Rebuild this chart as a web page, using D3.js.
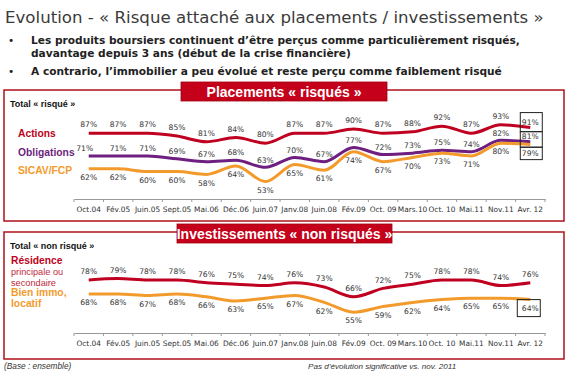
<!DOCTYPE html>
<html><head><meta charset="utf-8">
<script src="https://cdn.jsdelivr.net/npm/d3@7/dist/d3.min.js"></script>
<style>body{margin:0;background:#fff}svg{display:block}</style>
</head><body>
<script>
const categories = ["Oct.04","Fév.05","Juin.05","Sept.05","Mai.06","Déc.06","Juin.07","Janv.08","Juin.08","Fév.09","Oct. 09","Mars.10","Oct. 10","Mai.11","Nov.11","Avr. 12"];
const actions     = [87,87,87,85,81,84,80,87,87,90,87,88,92,87,93,91];
const obligations = [71,71,71,69,67,68,63,70,67,77,72,73,75,74,82,81];
const sicav       = [62,62,60,60,58,64,53,65,61,74,67,70,73,71,80,79];
const residence   = [78,79,78,78,76,75,74,76,73,66,72,75,78,78,74,76];
const bienImmo    = [68,68,67,68,66,63,65,67,62,55,59,62,64,65,65,64];

const W = 569, H = 373;
const svg = d3.select("body").append("svg").attr("width", W).attr("height", H);
const RED = "#c00020", PURPLE = "#6e1f80", ORANGE = "#f29b2c", DARKRED = "#b0101c";
const SANS = "'Liberation Sans', Arial, sans-serif";
const DJ = "'DejaVu Sans', sans-serif";

function fit(sel, target, base) {
  const w = sel.node().getComputedTextLength();
  sel.attr("font-size", base * target / w);
}

// Title
const title = svg.append("text").attr("x", 5).attr("y", 23).attr("font-family", DJ).attr("font-size", 16)
  .attr("fill", "#3a3a3a").text("Evolution - « Risque attaché aux placements / investissements »");
fit(title, 539, 16);

const bullets = [
  {y: 44, t: "Les produits boursiers continuent d’être perçus comme particulièrement risqués,", b: true, w: 489},
  {y: 57, t: "davantage depuis 3 ans (début de la crise financière)", b: false, w: 0},
  {y: 75, t: "A contrario, l’immobilier a peu évolué et reste perçu comme faiblement risqué", b: true, w: 465}
];
let bulletSize = 10.5;
bullets.forEach((d, k) => {
  if (d.b) svg.append("text").attr("x", 8).attr("y", d.y).attr("font-family", DJ).attr("font-size", 10.5).attr("fill", "#222").text("•");
  const t = svg.append("text").attr("x", 31).attr("y", d.y).attr("font-family", DJ).attr("font-weight", "bold")
    .attr("font-size", 10.5).attr("fill", "#222").text(d.t);
  if (k === 0) { fit(t, d.w, 10.5); bulletSize = +t.attr("font-size"); }
  else t.attr("font-size", bulletSize);
});

const x = d3.scaleBand().domain(categories).range([74, 545]);
const xc = d => x(d) + x.bandwidth() / 2;

function panel(cfg) {
  svg.append("rect").attr("x", 4).attr("y", cfg.top).attr("width", 560).attr("height", cfg.bottom - cfg.top)
    .attr("fill", "none").attr("stroke", DARKRED).attr("stroke-width", 1.5);
  svg.append("rect").attr("x", cfg.hx).attr("y", cfg.top - 8).attr("width", cfg.hw).attr("height", 19)
    .attr("fill", "#c4001a").attr("stroke", "#a00010").attr("stroke-width", 0.8);
  svg.append("text").attr("x", cfg.hx + cfg.hw / 2).attr("y", cfg.top + 6.5).attr("text-anchor", "middle")
    .attr("font-family", SANS).attr("font-weight", "bold").attr("font-size", 14).attr("fill", "#fff").text(cfg.header);
  svg.append("text").attr("x", 10).attr("y", cfg.top + 17).attr("font-family", SANS).attr("font-weight", "bold")
    .attr("font-size", 9).attr("fill", "#111").text(cfg.total);

  const g = svg.append("g").attr("transform", `translate(0,${cfg.axisY})`);
  g.call(d3.axisBottom(x).tickSize(0).tickPadding(8));
  g.select(".domain").attr("stroke", "#999").attr("stroke-width", 1);
  g.selectAll(".tick text").attr("font-family", DJ).attr("font-size", 7.4).attr("fill", "#333");
  const edges = categories.map(c => x(c)).concat([x.range()[1]]);
  g.selectAll("line.sep").data(edges).join("line").attr("class", "sep")
    .attr("x1", d => d).attr("x2", d => d).attr("y1", 0).attr("y2", 3).attr("stroke", "#999");

  const y = d3.scaleLinear().domain(cfg.ydom).range(cfg.yrange);
  const line = d3.line().x((d, i) => xc(categories[i])).y(d => y(d)).curve(d3.curveMonotoneX);
  cfg.series.forEach(s => {
    svg.append("path").datum(s.values).attr("d", line).attr("fill", "none")
      .attr("stroke", s.color).attr("stroke-width", 3).attr("stroke-linejoin", "round");
    svg.append("g").selectAll("text").data(s.values).join("text")
      .attr("x", (d, i) => xc(categories[i]) + (s.dx ? s.dx(i) : 0))
      .attr("y", (d, i) => y(d) + (s.off(i)))
      .attr("dy", "0.35em").attr("text-anchor", "middle").attr("font-family", DJ)
      .attr("font-size", 7.6).attr("fill", "#333").text(d => d + "%");
  });
  return y;
}

const y1 = panel({
  top: 90, bottom: 221, hx: 181, hw: 206, header: "Placements « risqués »", total: "Total « risqué »",
  axisY: 199, ydom: [50, 95], yrange: [185.8, 121.9],
  series: [
    {values: actions, color: RED, off: i => i === 15 ? -5 : -8.5},
    {values: obligations, color: PURPLE, off: i => i === 15 ? -5 : -7.5, dx: i => i === 0 ? -4 : 0},
    {values: sicav, color: ORANGE, off: i => i === 15 ? 9 : 8.5}
  ]
});
const legend1 = [
  {t: "Actions", y: 137, c: RED},
  {t: "Obligations", y: 155.5, c: PURPLE},
  {t: "SICAV/FCP", y: 174, c: ORANGE}
];
legend1.forEach(d => svg.append("text").attr("x", 18).attr("y", d.y).attr("font-family", SANS)
  .attr("font-weight", "bold").attr("font-size", 10.3).attr("fill", d.c).text(d.t));

{
  const last = categories.length - 1;
  const c1 = y1(actions[last]) - 5, c2 = y1(obligations[last]) - 5, c3 = y1(sicav[last]) + 9;
  const bounds = [c1 - 10, (c1 + c2) / 2 + 2, (c2 + c3) / 2 + 2, c3 + 6];
  const bx = xc(categories[last]) - 10;
  for (let k = 0; k < 3; k++) {
    svg.append("rect").attr("x", bx).attr("y", bounds[k]).attr("width", 22).attr("height", bounds[k + 1] - bounds[k])
      .attr("fill", "none").attr("stroke", "#222").attr("stroke-width", 1);
  }
}

const y2 = panel({
  top: 232, bottom: 359, hx: 177, hw: 215, header: "Investissements « non risqués »", total: "Total « non risqué »",
  axisY: 333, ydom: [50, 85], yrange: [319.2, 270.2],
  series: [
    {values: residence, color: RED, off: i => -8.5},
    {values: bienImmo, color: ORANGE, off: i => 8.5}
  ]
});
const legend2 = [
  {t: "Résidence", y: 263.5, c: RED, b: true, s: 10.3},
  {t: "principale ou", y: 274.5, c: "#c0283c", b: false, s: 9.2},
  {t: "secondaire", y: 285.5, c: "#c0283c", b: false, s: 9.2},
  {t: "Bien immo,", y: 296, c: ORANGE, b: true, s: 10.3},
  {t: "locatif", y: 307, c: ORANGE, b: true, s: 10.3}
];
legend2.forEach(d => svg.append("text").attr("x", 11).attr("y", d.y).attr("font-family", SANS)
  .attr("font-weight", d.b ? "bold" : "normal").attr("font-size", d.s).attr("fill", d.c).text(d.t));
{
  const last = categories.length - 1;
  const c = y2(bienImmo[last]) + 8.5;
  svg.append("rect").attr("x", xc(categories[last]) - 13).attr("y", c - 8.5).attr("width", 23).attr("height", 17)
    .attr("fill", "none").attr("stroke", "#222").attr("stroke-width", 1);
}

svg.append("text").attr("x", 4).attr("y", 369).attr("font-family", SANS).attr("font-style", "italic")
  .attr("font-size", 8.3).attr("fill", "#333").text("(Base : ensemble)");
svg.append("text").attr("x", 308).attr("y", 369).attr("font-family", SANS).attr("font-style", "italic")
  .attr("font-size", 8.1).attr("fill", "#333").text("Pas d’évolution significative vs. nov. 2011");
</script>
</body></html>
